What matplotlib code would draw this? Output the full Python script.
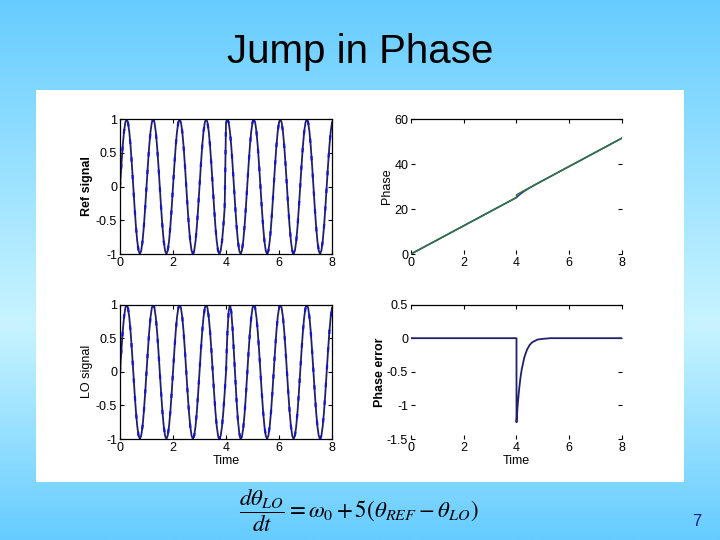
import matplotlib
matplotlib.use("Agg")
import matplotlib.pyplot as plt
import numpy as np
from matplotlib.patches import Rectangle

# sampled signals, one row per second (20 samples, dt = 0.05)
ref_signal = [
    0, 0.31, 0.59, 0.81, 0.95, 1.0, 0.95, 0.81, 0.59, 0.31, 0, -0.31, -0.59, -0.81, -0.95, -1.0, -0.95, -0.81, -0.59, -0.31,
    0, 0.31, 0.59, 0.81, 0.95, 1.0, 0.95, 0.81, 0.59, 0.31, 0, -0.31, -0.59, -0.81, -0.95, -1.0, -0.95, -0.81, -0.59, -0.31,
    0, 0.31, 0.59, 0.81, 0.95, 1.0, 0.95, 0.81, 0.59, 0.31, 0, -0.31, -0.59, -0.81, -0.95, -1.0, -0.95, -0.81, -0.59, -0.31,
    0, 0.31, 0.59, 0.81, 0.95, 1.0, 0.95, 0.81, 0.59, 0.31, 0, -0.31, -0.59, -0.81, -0.95, -1.0, -0.95, -0.81, -0.59, -0.31,
    0.95, 1.0, 0.95, 0.81, 0.59, 0.31, 0, -0.31, -0.59, -0.81, -0.95, -1.0, -0.95, -0.81, -0.59, -0.31, 0, 0.31, 0.59, 0.81,
    0.95, 1.0, 0.95, 0.81, 0.59, 0.31, 0, -0.31, -0.59, -0.81, -0.95, -1.0, -0.95, -0.81, -0.59, -0.31, 0, 0.31, 0.59, 0.81,
    0.95, 1.0, 0.95, 0.81, 0.59, 0.31, 0, -0.31, -0.59, -0.81, -0.95, -1.0, -0.95, -0.81, -0.59, -0.31, 0, 0.31, 0.59, 0.81,
    0.95, 1.0, 0.95, 0.81, 0.59, 0.31, 0, -0.31, -0.59, -0.81, -0.95, -1.0, -0.95, -0.81, -0.59, -0.31, 0, 0.31, 0.59, 0.81,
    0.95,
]
lo_signal = [
    0, 0.31, 0.59, 0.81, 0.95, 1.0, 0.95, 0.81, 0.59, 0.31, 0, -0.31, -0.59, -0.81, -0.95, -1.0, -0.95, -0.81, -0.59, -0.31,
    0, 0.31, 0.59, 0.81, 0.95, 1.0, 0.95, 0.81, 0.59, 0.31, 0, -0.31, -0.59, -0.81, -0.95, -1.0, -0.95, -0.81, -0.59, -0.31,
    0, 0.31, 0.59, 0.81, 0.95, 1.0, 0.95, 0.81, 0.59, 0.31, 0, -0.31, -0.59, -0.81, -0.95, -1.0, -0.95, -0.81, -0.59, -0.31,
    0, 0.31, 0.59, 0.81, 0.95, 1.0, 0.95, 0.81, 0.59, 0.31, 0, -0.31, -0.59, -0.81, -0.95, -1.0, -0.95, -0.81, -0.59, -0.31,
    0, 0.56, 0.90, 1.0, 0.89, 0.63, 0.28, -0.09, -0.44, -0.72, -0.91, -1.0, -0.97, -0.84, -0.63, -0.35, -0.03, 0.29, 0.57, 0.80,
    0.95, 1.0, 0.95, 0.81, 0.59, 0.31, 0, -0.31, -0.59, -0.81, -0.95, -1.0, -0.95, -0.81, -0.59, -0.31, 0, 0.31, 0.59, 0.81,
    0.95, 1.0, 0.95, 0.81, 0.59, 0.31, 0, -0.31, -0.59, -0.81, -0.95, -1.0, -0.95, -0.81, -0.59, -0.31, 0, 0.31, 0.59, 0.81,
    0.95, 1.0, 0.95, 0.81, 0.59, 0.31, 0, -0.31, -0.59, -0.81, -0.95, -1.0, -0.95, -0.81, -0.59, -0.31, 0, 0.31, 0.59, 0.81,
    0.95,
]
t_signal = np.linspace(0, 8, len(ref_signal))

ref_phase_t = [0, 4, 4, 8]
ref_phase = [0, 25.13, 26.38, 51.52]
lo_phase_t = [0, 4, 4.05, 4.1, 4.2, 4.3, 4.5, 4.75, 5, 5.5, 8]
lo_phase = [0, 25.13, 25.72, 26.25, 27.18, 27.99, 29.42, 31.07, 32.66, 35.81, 51.52]

err_t = [0, 4, 4, 4.05, 4.1, 4.15, 4.2, 4.3, 4.4, 4.5, 4.6, 4.8, 5.0, 5.3, 8]
phase_err = [0, 0, -1.25, -0.97, -0.76, -0.59, -0.46, -0.28, -0.17, -0.10, -0.06, -0.02, -0.01, 0, 0]

x_ticks = [0, 2, 4, 6, 8]
sig_ticks = [-1, -0.5, 0, 0.5, 1]
sig_labels = ["-1", "-0.5", "0", "0.5", "1"]
phase_ticks = [0, 20, 40, 60]
err_ticks = [-1.5, -1, -0.5, 0, 0.5]
err_labels = ["-1.5", "-1", "-0.5", "0", "0.5"]

plt.rcParams['font.family'] = ['Liberation Sans', 'DejaVu Sans']
plt.rcParams['mathtext.fontset'] = 'stix'

fig = plt.figure(figsize=(7.2, 5.4), dpi=100)

# slide background: vertical gradient
bg = fig.add_axes([0, 0, 1, 1], zorder=-10)
yy = np.linspace(0, 1, 256)
top = np.array([102, 204, 255]) / 255
mid = np.array([200, 244, 255]) / 255
r = np.interp(yy, [0, 0.6, 1], [top[0], mid[0], top[0]])
g = np.interp(yy, [0, 0.6, 1], [top[1], mid[1], top[1]])
b = np.interp(yy, [0, 0.6, 1], [top[2], mid[2], top[2]])
grad = np.stack([r, g, b], axis=1)[:, None, :]
bg.imshow(grad, aspect='auto', extent=[0, 1, 0, 1])
bg.axis('off')

fig.patches.append(Rectangle((0.05, 0.1074), 0.9, 0.726, transform=fig.transFigure,
                             facecolor='white', edgecolor='none', zorder=-5))

fig.text(0.5, 0.904, "Jump in Phase", ha='center', va='center', fontsize=29)
fig.text(0.498, 0.054, r'$\dfrac{d\theta_{LO}}{dt} = \omega_0 + 5(\theta_{REF} - \theta_{LO})$',
         ha='center', va='center', fontsize=16.5)
fig.text(0.968, 0.034, "7", ha='center', va='center', fontsize=12, color='#1a1a99')

navy = '#20206e'
blue = '#1414d8'

ax1 = fig.add_axes([0.1667, 0.5296, 0.2944, 0.25])
ax2 = fig.add_axes([0.5708, 0.5296, 0.2931, 0.25])
ax3 = fig.add_axes([0.1667, 0.187, 0.2944, 0.249])
ax4 = fig.add_axes([0.5708, 0.187, 0.2931, 0.249])

for ax, sig in [(ax1, ref_signal), (ax3, lo_signal)]:
    ax.plot(t_signal, sig, color=navy, lw=1.3)
    ax.plot(t_signal, sig, color=blue, lw=1.6, dashes=(2, 6))
    ax.set_xlim(0, 8)
    ax.set_ylim(-1, 1)
    ax.set_yticks(sig_ticks)
    ax.set_yticklabels(sig_labels)

ax2.plot(lo_phase_t, lo_phase, color='#2030a0', lw=1.2)
ax2.plot(ref_phase_t, ref_phase, color='#2f7a2f', lw=1.0)
ax2.set_xlim(0, 8)
ax2.set_ylim(0, 60)
ax2.set_yticks(phase_ticks)

ax4.plot(err_t, phase_err, color=navy, lw=1.3)
ax4.set_xlim(0, 8)
ax4.set_ylim(-1.5, 0.5)
ax4.set_yticks(err_ticks)
ax4.set_yticklabels(err_labels)

for ax in [ax1, ax2, ax3, ax4]:
    ax.set_xticks(x_ticks)
    ax.tick_params(direction='in', length=3, width=0.8, labelsize=9, pad=2,
                   top=True, right=True)
    for s in ax.spines.values():
        s.set_linewidth(0.9)

for ax in [ax2, ax4]:
    for side in ['left', 'right', 'bottom']:
        ax.spines[side].set_visible(False)

ax1.set_ylabel("Ref signal", fontsize=9, fontweight='bold', labelpad=2)
ax2.set_ylabel("Phase", fontsize=9, labelpad=1)
ax3.set_ylabel("LO signal", fontsize=9, labelpad=2)
ax4.set_ylabel("Phase error", fontsize=9, fontweight='bold', labelpad=1)
ax3.set_xlabel("Time", fontsize=9, labelpad=1)
ax4.set_xlabel("Time", fontsize=9, labelpad=1)

fig.savefig("out.png", dpi=100)
